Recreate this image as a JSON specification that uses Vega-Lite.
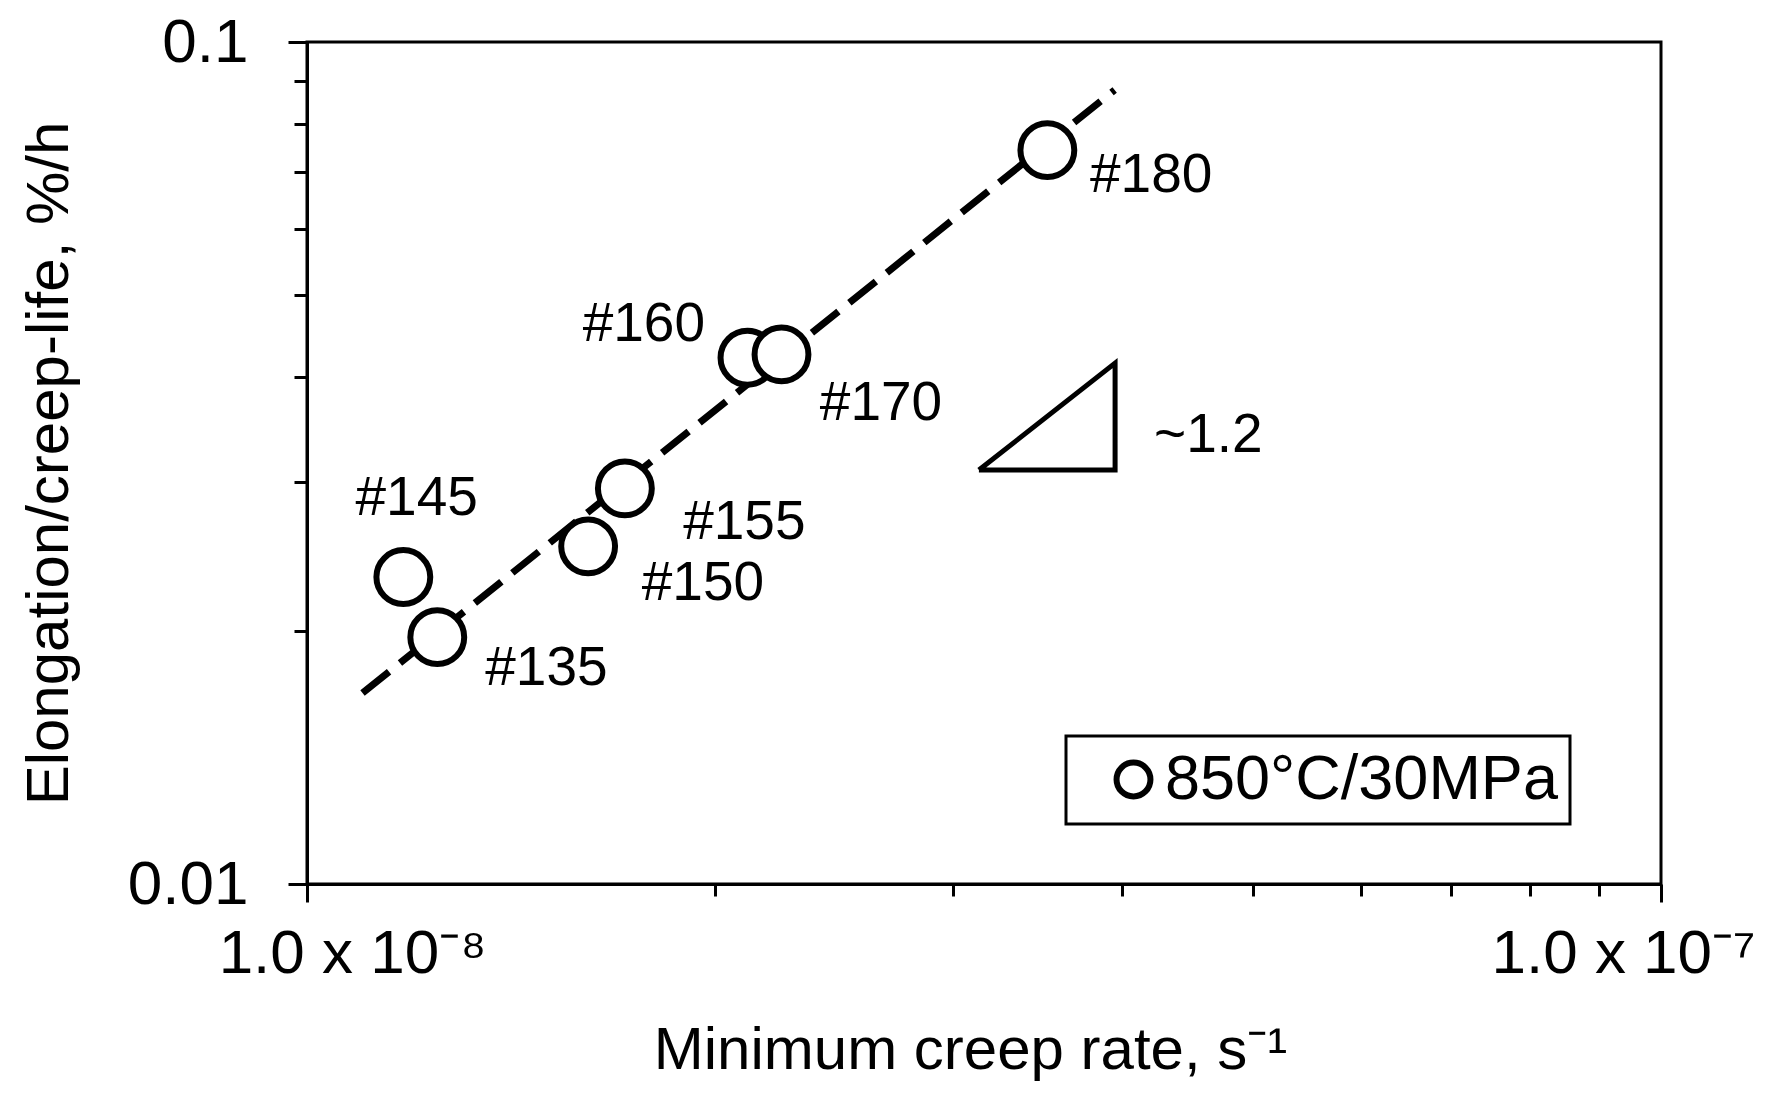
{
  "$schema": "https://vega.github.io/schema/vega-lite/v6.json",
  "width": 1354,
  "height": 842,
  "autosize": {"type": "none"},
  "padding": {"left": 307, "top": 42, "right": 120, "bottom": 225},
  "background": "white",
  "config": {
    "font": "Liberation Sans",
    "view": {"stroke": "black", "strokeWidth": 3},
    "axis": {
      "domainColor": "black", "domainWidth": 3,
      "tickColor": "black", "tickWidth": 3,
      "labelColor": "black", "titleColor": "black",
      "grid": false, "labelLimit": 0, "titleLimit": 0,
      "labelFont": "Liberation Sans", "titleFont": "Liberation Sans",
      "titleFontWeight": "normal"
    },
    "legend": {"strokeWidth": 3, "labelLimit": 0}
  },
  "datasets": {
    "points": [
      {"id": "#145", "rate": 1.178e-8, "ratio": 0.02315, "condition": "850°C/30MPa"},
      {"id": "#135", "rate": 1.248e-8, "ratio": 0.01964, "condition": "850°C/30MPa"},
      {"id": "#150", "rate": 1.613e-8, "ratio": 0.02518, "condition": "850°C/30MPa"},
      {"id": "#155", "rate": 1.717e-8, "ratio": 0.02950, "condition": "850°C/30MPa"},
      {"id": "#160", "rate": 2.115e-8, "ratio": 0.04217, "condition": "850°C/30MPa"},
      {"id": "#170", "rate": 2.241e-8, "ratio": 0.04256, "condition": "850°C/30MPa"},
      {"id": "#180", "rate": 3.522e-8, "ratio": 0.0744, "condition": "850°C/30MPa"}
    ],
    "fit": [
      {"rate": 1.099e-8, "ratio": 0.01686},
      {"rate": 3.949e-8, "ratio": 0.0877}
    ],
    "tri": [
      {"k": 1, "rate": 3.135e-8, "ratio": 0.03102},
      {"k": 2, "rate": 3.952e-8, "ratio": 0.03102},
      {"k": 3, "rate": 3.952e-8, "ratio": 0.04156},
      {"k": 4, "rate": 3.135e-8, "ratio": 0.03102}
    ],
    "labels": [
      {"label": "#180", "rate": 3.787e-8, "ratio": 0.0695},
      {"label": "#160", "rate": 1.598e-8, "ratio": 0.04629},
      {"label": "#170", "rate": 2.392e-8, "ratio": 0.03724},
      {"label": "#145", "rate": 1.086e-8, "ratio": 0.02877},
      {"label": "#155", "rate": 1.896e-8, "ratio": 0.02692},
      {"label": "#150", "rate": 1.767e-8, "ratio": 0.02278},
      {"label": "#135", "rate": 1.354e-8, "ratio": 0.01805},
      {"label": "~1.2", "rate": 4.223e-8, "ratio": 0.03414}
    ]
  },
  "layer": [
    {
      "data": {"name": "fit"},
      "mark": {"type": "line", "stroke": "black", "strokeWidth": 7, "strokeDash": [34, 14]},
      "encoding": {
        "x": {
          "field": "rate", "type": "quantitative",
          "scale": {"type": "log", "domain": [1e-8, 1e-7], "nice": false},
          "axis": {
            "title": "Minimum creep rate, s⁻¹",
            "titleFontSize": 60,
            "titleX": 663, "titleY": 184,
            "titleAlign": "center", "titleBaseline": "alphabetic",
            "values": [1e-8, 2e-8, 3e-8, 4e-8, 5e-8, 6e-8, 7e-8, 8e-8, 9e-8, 1e-7],
            "labelExpr": "abs(log(datum.value)/LN10 + 8) < 0.01 ? '1.0 x 10⁻⁸' : (abs(log(datum.value)/LN10 + 7) < 0.01 ? '1.0 x 10⁻⁷' : '')",
            "labelFontSize": 62,
            "labelOverlap": false, "labelFlush": false, "labelBound": false,
            "labelBaseline": "alphabetic",
            "labelPadding": 70,
            "labelOffset": {"condition": {"test": "datum.value < 5e-8", "value": 45}, "value": -38},
            "tickSize": {"condition": {"test": "datum.value < 1.5e-8 || datum.value > 9.5e-8", "value": 18}, "value": 12}
          }
        },
        "y": {
          "field": "ratio", "type": "quantitative",
          "scale": {"type": "log", "domain": [0.01, 0.1], "nice": false},
          "axis": {
            "title": "Elongation/creep-life, %/h",
            "titleFontSize": 60,
            "titleAngle": -90,
            "titleX": -258, "titleY": 421,
            "titleAlign": "center", "titleBaseline": "middle",
            "values": [0.01, 0.02, 0.03, 0.04, 0.05, 0.06, 0.07, 0.08, 0.09, 0.1],
            "labelExpr": "abs(log(datum.value)/LN10 + 2) < 0.01 ? '0.01' : (abs(log(datum.value)/LN10 + 1) < 0.01 ? '0.1' : '')",
            "labelFontSize": 62,
            "labelOverlap": false, "labelFlush": false, "labelBound": false,
            "labelPadding": 40,
            "tickSize": {"condition": {"test": "datum.value < 0.015 || datum.value > 0.095", "value": 19}, "value": 13}
          }
        }
      }
    },
    {
      "data": {"name": "tri"},
      "mark": {"type": "line", "stroke": "black", "strokeWidth": 5, "strokeJoin": "miter"},
      "encoding": {
        "x": {"field": "rate", "type": "quantitative"},
        "y": {"field": "ratio", "type": "quantitative"},
        "order": {"field": "k", "type": "quantitative"}
      }
    },
    {
      "data": {"name": "points"},
      "mark": {"type": "point", "shape": "circle", "size": 2900, "fill": "white", "fillOpacity": 1, "strokeWidth": 6, "opacity": 1},
      "encoding": {
        "x": {"field": "rate", "type": "quantitative"},
        "y": {"field": "ratio", "type": "quantitative"},
        "stroke": {
          "field": "condition", "type": "nominal",
          "scale": {"range": ["black"]},
          "legend": {
            "title": null,
            "orient": "none", "legendX": 759, "legendY": 694,
            "padding": 12,
            "strokeColor": "black", "fillColor": "white",
            "labelFontSize": 63, "labelFont": "Liberation Sans", "labelColor": "black",
            "labelLimit": 0,
            "symbolType": "circle",
            "symbolSize": 1150, "symbolStrokeWidth": 6,
            "symbolFillColor": "white",
            "symbolOffset": 24, "labelOffset": 0
          }
        }
      }
    },
    {
      "data": {"name": "labels"},
      "mark": {"type": "text", "align": "left", "baseline": "middle", "fontSize": 55, "font": "Liberation Sans", "color": "black"},
      "encoding": {
        "x": {"field": "rate", "type": "quantitative"},
        "y": {"field": "ratio", "type": "quantitative"},
        "text": {"field": "label"}
      }
    }
  ]
}
